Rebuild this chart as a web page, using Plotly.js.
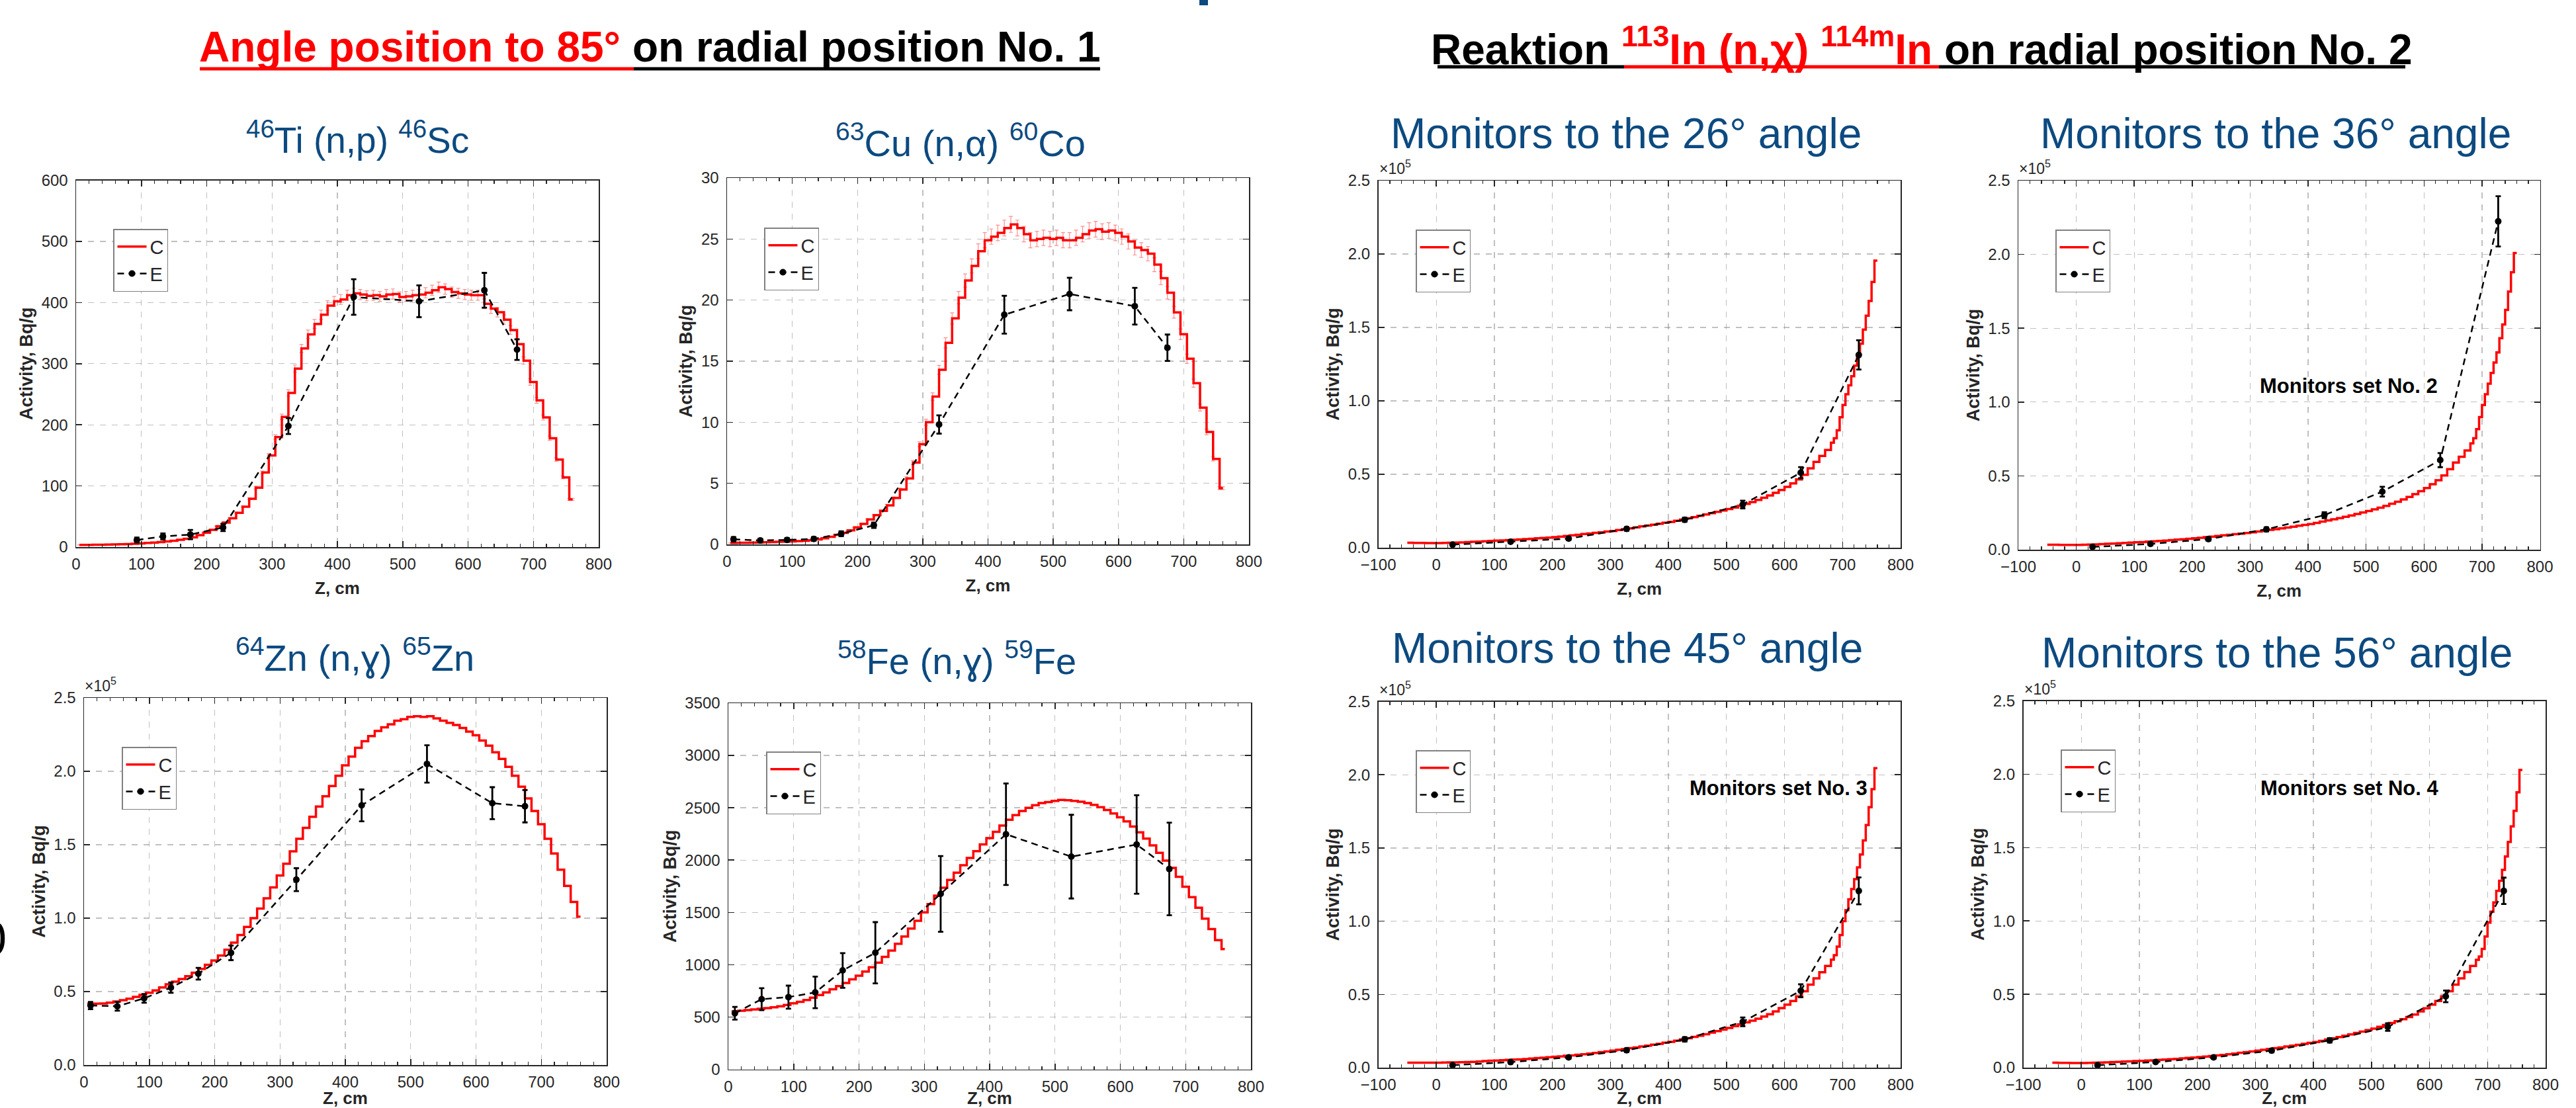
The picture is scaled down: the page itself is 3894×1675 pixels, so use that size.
<!DOCTYPE html>
<html>
<head>
<meta charset="utf-8">
<script src="https://cdn.plot.ly/plotly-3.0.1.min.js"></script>
<style>html,body{margin:0;padding:0;background:#fff;}#chart{width:3894px;height:1675px;}</style>
</head>
<body>
<div id="chart"></div>
<script>
// ---------------- DATA ----------------
// Calculated (C) histogram grid for the 85° panels, cm (bin starts, last value closes the final bin)
const X_85 = [5,15,25,35,45,55,65,75,85,95,105,115,125,135,145,155,165,175,185,195,205,215,225,235,245,255,265,275,285,295,305,315,325,335,345,355,365,375,385,395,405,415,425,435,445,455,465,475,485,495,505,515,525,535,545,555,565,575,585,595,605,615,625,635,645,655,665,675,685,695,705,715,725,735,745,755,760];
// Experimental (E) positions, cm
const E_X_85 = [10,51,92,133,175,225,325,425,525,625,675];
const E_X_TI = [93,133,175,225,325,425,525,625,675];

// 46Ti (n,p) 46Sc, Bq/g
const C_TI = [3.5,3.6,3.7,3.8,4.0,4.2,4.5,4.9,5.4,6.0,6.7,7.4,8.2,9.2,10.3,11.8,13.5,16.0,19.5,23.5,28,34,40,47,56,66,79,97,122,150,180,213,252,292,325,348,365,380,395,402,405,412,415,413,411,412,410,413,414,409,410,412,413,416,420,425,422,417,415,413,412,412,398,390,384,372,355,332,305,270,240,212,178,143,114,78,78];
const E_TI = [11.4,17.4,20.4,32,198,409,402,420,323];
const E_TI_ERR = [4,5,7.5,6,13,29,26,28.5,17];

// 63Cu (n,α) 60Co, Bq/g
const C_CU = [0.12,0.13,0.14,0.15,0.16,0.17,0.19,0.21,0.23,0.25,0.27,0.30,0.34,0.40,0.50,0.62,0.78,0.95,1.15,1.40,1.68,2.05,2.40,2.75,3.20,3.80,4.50,5.40,6.70,8.20,10.0,12.1,14.3,16.5,18.5,20.2,21.6,22.8,24.0,24.9,25.2,25.5,25.9,26.2,25.9,25.4,24.9,25.0,25.1,25.0,25.1,24.9,24.9,25.1,25.4,25.7,25.8,25.6,25.7,25.5,25.2,24.8,24.3,24.1,23.8,22.9,21.8,20.6,19.0,17.2,15.2,13.2,11.2,9.2,7.0,4.6,4.6];
const E_CU = [0.42,0.32,0.37,0.45,0.87,1.57,9.82,18.8,20.5,19.5,16.1];
const E_CU_ERR = [0.18,0.15,0.15,0.15,0.2,0.22,0.75,1.55,1.33,1.5,1.08];

// 64Zn (n,ɣ) 65Zn, ×10^5 Bq/g
const C_ZN = [0.418,0.418,0.419,0.425,0.432,0.442,0.452,0.464,0.478,0.492,0.508,0.528,0.549,0.568,0.586,0.605,0.628,0.654,0.682,0.712,0.745,0.785,0.833,0.885,0.94,1.00,1.065,1.135,1.21,1.29,1.37,1.455,1.54,1.615,1.69,1.76,1.83,1.90,1.97,2.04,2.10,2.16,2.205,2.24,2.275,2.30,2.32,2.345,2.355,2.37,2.375,2.37,2.375,2.36,2.345,2.33,2.315,2.295,2.27,2.245,2.21,2.175,2.13,2.085,2.03,1.97,1.895,1.815,1.73,1.64,1.54,1.44,1.33,1.22,1.11,1.01,1.01];
const E_ZN = [0.405,0.40,0.454,0.527,0.622,0.764,1.262,1.768,2.05,1.783,1.762];
const E_ZN_ERR = [0.025,0.03,0.03,0.035,0.04,0.05,0.078,0.109,0.127,0.109,0.11];

// 58Fe (n,ɣ) 59Fe, Bq/g
const C_FE = [555,560,566,572,578,585,593,602,615,630,645,662,685,710,735,765,795,825,860,895,935,975,1020,1075,1135,1200,1270,1345,1420,1500,1580,1660,1735,1810,1880,1950,2020,2085,2150,2210,2270,2330,2385,2430,2470,2500,2525,2545,2555,2565,2575,2572,2565,2558,2545,2528,2505,2478,2445,2410,2370,2320,2265,2205,2140,2070,1995,1925,1840,1745,1645,1545,1440,1340,1235,1150,1150];
const E_FE = [536,670,690,735,945,1114,1677,2247,2033,2149,1915];
const E_FE_ERR = [61,105,110,151,166,293,362,485,400,471,443];

// Monitors 113In (n,χ) 114mIn, ×10^5 Bq/g
const X_MON = [-50,-40,-30,-20,-10,0,10,20,30,40,50,60,70,80,90,100,110,120,130,140,150,160,170,180,190,200,210,220,230,240,250,260,270,280,290,300,310,320,330,340,350,360,370,380,390,400,410,420,430,440,450,460,470,480,490,500,510,520,530,540,550,560,570,580,590,600,610,620,630,640,650,660,670,680,685,690,695,700,705,710,715,720,725,730,735,740,745,750,755,760];
const E_X_MON = [28,128,228,328,428,528,628,728];

const C_26 = [0.034,0.033,0.033,0.032,0.032,0.032,0.033,0.034,0.035,0.036,0.038,0.040,0.042,0.044,0.046,0.048,0.050,0.052,0.054,0.056,0.058,0.061,0.064,0.066,0.069,0.072,0.076,0.080,0.084,0.088,0.093,0.097,0.101,0.105,0.110,0.114,0.120,0.126,0.132,0.138,0.145,0.151,0.157,0.163,0.170,0.176,0.184,0.192,0.200,0.208,0.217,0.226,0.235,0.244,0.253,0.263,0.274,0.286,0.298,0.311,0.325,0.340,0.356,0.374,0.393,0.414,0.438,0.465,0.497,0.540,0.585,0.625,0.665,0.715,0.745,0.80,0.889,0.972,1.045,1.106,1.168,1.24,1.30,1.39,1.485,1.58,1.68,1.81,1.955,1.955];
const E_26 = [0.021,0.041,0.062,0.128,0.19,0.294,0.511,1.313];
const E_26_ERR = [0.008,0.008,0.01,0.012,0.014,0.026,0.038,0.10];

const C_36 = [0.034,0.034,0.033,0.033,0.033,0.033,0.034,0.035,0.036,0.038,0.040,0.042,0.044,0.046,0.048,0.050,0.052,0.055,0.057,0.059,0.062,0.065,0.068,0.071,0.074,0.077,0.081,0.085,0.089,0.093,0.097,0.101,0.105,0.109,0.113,0.118,0.123,0.128,0.134,0.139,0.145,0.150,0.156,0.162,0.168,0.174,0.182,0.190,0.198,0.206,0.214,0.223,0.232,0.242,0.252,0.262,0.273,0.285,0.297,0.311,0.325,0.340,0.357,0.376,0.396,0.418,0.443,0.470,0.503,0.545,0.590,0.630,0.672,0.72,0.755,0.816,0.898,0.98,1.053,1.125,1.197,1.268,1.336,1.433,1.525,1.624,1.748,1.879,2.009,2.009];
const E_36 = [0.019,0.039,0.072,0.138,0.234,0.393,0.607,2.224];
const E_36_ERR = [0.008,0.01,0.012,0.014,0.02,0.033,0.048,0.17];

const C_45 = [0.034,0.034,0.034,0.034,0.034,0.034,0.035,0.036,0.036,0.037,0.038,0.040,0.042,0.045,0.047,0.049,0.051,0.053,0.055,0.057,0.059,0.062,0.065,0.068,0.071,0.074,0.077,0.081,0.084,0.088,0.091,0.096,0.101,0.106,0.111,0.116,0.122,0.127,0.133,0.138,0.144,0.150,0.157,0.163,0.170,0.176,0.184,0.193,0.201,0.210,0.218,0.228,0.239,0.249,0.260,0.271,0.283,0.296,0.309,0.321,0.334,0.349,0.365,0.384,0.406,0.430,0.455,0.487,0.522,0.567,0.610,0.652,0.694,0.737,0.768,0.826,0.906,1.001,1.075,1.149,1.219,1.287,1.367,1.456,1.552,1.657,1.778,1.901,2.045,2.045];
const E_45 = [0.017,0.038,0.07,0.119,0.193,0.313,0.525,1.207];
const E_45_ERR = [0.008,0.008,0.01,0.012,0.015,0.03,0.044,0.092];

const C_56 = [0.034,0.033,0.033,0.032,0.032,0.032,0.033,0.034,0.035,0.036,0.038,0.040,0.042,0.043,0.045,0.046,0.048,0.050,0.053,0.055,0.057,0.060,0.063,0.066,0.069,0.072,0.076,0.079,0.083,0.087,0.091,0.096,0.101,0.106,0.111,0.116,0.122,0.127,0.133,0.138,0.144,0.150,0.156,0.162,0.169,0.175,0.183,0.192,0.200,0.209,0.218,0.227,0.237,0.246,0.256,0.266,0.278,0.291,0.304,0.317,0.330,0.345,0.362,0.383,0.405,0.429,0.454,0.486,0.521,0.566,0.609,0.651,0.693,0.735,0.757,0.809,0.894,0.989,1.063,1.126,1.205,1.274,1.348,1.439,1.538,1.644,1.75,1.877,2.029,2.029];
const E_56 = [0.017,0.038,0.07,0.116,0.186,0.277,0.486,1.205];
const E_56_ERR = [0.008,0.008,0.01,0.012,0.015,0.026,0.04,0.09];

// Texts
const PANEL_TITLES = [
  '<sup>46</sup>Ti (n,p) <sup>46</sup>Sc',
  '<sup>63</sup>Cu (n,α) <sup>60</sup>Co',
  'Monitors to the 26° angle',
  'Monitors to the 36° angle',
  '<sup>64</sup>Zn (n,ɣ) <sup>65</sup>Zn',
  '<sup>58</sup>Fe (n,ɣ) <sup>59</sup>Fe',
  'Monitors to the 45° angle',
  'Monitors to the 56° angle'
];
const HEADER_1 = '<b><span style="color:#ff0000">Angle position to 85°</span> on radial position No. 1</b>';
const HEADER_2 = '<b>Reaktion <span style="color:#ff0000"><sup>113</sup>In (n,χ) <sup>114m</sup>In</span> on radial position No. 2</b>';
const SET_LABELS = ['Monitors set No. 2','Monitors set No. 3','Monitors set No. 4'];
const SERIES_NAMES = ['C','E'];

// ---------------- LAYOUT ----------------
const W = 3894, H = 1675;
const FONT = 'Arial, "Liberation Sans", sans-serif';
const BLUE = '#0C4A80';
const AX = '#262626';
const fx = p => p / W;
const fy = p => 1 - p / H;

const panels = [
  {box:[115,905,272.5,827],  xr:[0,800],   yr:[0,600],  dy:100, fmt:'',    exp:false, leg:[171,346],  tc:[540,208,55], cx:X_85,  cy:C_TI, ex:E_X_TI,  ey:E_TI, ee:E_TI_ERR, cerr:2},
  {box:[1099,1888,269,823],  xr:[0,800],   yr:[0,30],   dy:5,   fmt:'',    exp:false, leg:[1155,344], tc:[1452,212,56], cx:X_85,  cy:C_CU, ex:E_X_85,  ey:E_CU, ee:E_CU_ERR, cerr:2.5},
  {box:[2083.5,2873,273,828],xr:[-100,800],yr:[0,2.5],  dy:0.5, fmt:'.1f', exp:true,  leg:[2140,347], tc:[2458,202,64], cx:X_MON, cy:C_26, ex:E_X_MON, ey:E_26, ee:E_26_ERR},
  {box:[3051,3839.5,273,831],xr:[-100,800],yr:[0,2.5],  dy:0.5, fmt:'.1f', exp:true,  leg:[3107,347], tc:[3440,202,64], cx:X_MON, cy:C_36, ex:E_X_MON, ey:E_36, ee:E_36_ERR},
  {box:[127,917,1055,1610],  xr:[0,800],   yr:[0,2.5],  dy:0.5, fmt:'.1f', exp:true,  leg:[184,1129], tc:[536,990,56],  cx:X_85,  cy:C_ZN, ex:E_X_85,  ey:E_ZN, ee:E_ZN_ERR},
  {box:[1101,1891,1063,1616.5],xr:[0,800], yr:[0,3500], dy:500, fmt:'',    exp:false, leg:[1158,1136],tc:[1446,995,56], cx:X_85,  cy:C_FE, ex:E_X_85,  ey:E_FE, ee:E_FE_ERR},
  {box:[2083.5,2873,1060.5,1614],xr:[-100,800],yr:[0,2.5],dy:0.5,fmt:'.1f',exp:true, leg:[2140,1134],tc:[2460,980,64], cx:X_MON, cy:C_45, ex:E_X_MON, ey:E_45, ee:E_45_ERR},
  {box:[3058.5,3848,1059.5,1614],xr:[-100,800],yr:[0,2.5],dy:0.5,fmt:'.1f',exp:true, leg:[3115,1133],tc:[3442,987,64], cx:X_MON, cy:C_56, ex:E_X_MON, ey:E_56, ee:E_56_ERR}
];

const data = [];
const layout = {
  width: W, height: H,
  margin: {l:0, r:0, t:0, b:0},
  paper_bgcolor: '#ffffff', plot_bgcolor: '#ffffff',
  font: {family: FONT, color: AX},
  annotations: [], shapes: []
};

panels.forEach((p, k) => {
  const i = k + 1;
  const xs = i === 1 ? '' : String(i);
  const legKey = i === 1 ? 'legend' : 'legend' + i;
  const [l, r, t, b] = p.box;
  const common = {
    showgrid: true, gridcolor: 'rgba(140,140,140,0.55)', griddash: 'dash', gridwidth: 1.3,
    showline: true, linecolor: AX, linewidth: 1.5, mirror: 'ticks',
    ticks: 'inside', ticklen: 9, tickwidth: 1.5, tickcolor: AX,
    tickfont: {family: FONT, size: 24, color: AX},
    zeroline: false, fixedrange: true, automargin: false
  };
  layout['xaxis' + xs] = Object.assign({}, common, {
    domain: [fx(l), fx(r)], range: p.xr, dtick: 100, tick0: 0, anchor: 'y' + xs,
    ticklabelstandoff: 4,
    minor: {dtick: 20, ticks: 'inside', ticklen: 5, tickwidth: 1.2, tickcolor: AX, showgrid: false},
    title: {text: '<b>Z, cm</b>', font: {family: FONT, size: 26, color: AX}, standoff: 14}
  });
  layout['yaxis' + xs] = Object.assign({}, common, {
    domain: [fy(b), fy(t)], range: p.yr, dtick: p.dy, tick0: 0, anchor: 'x' + xs,
    tickformat: p.fmt, ticklabelstandoff: 6,
    title: {text: '<b>Activity, Bq/g</b>', font: {family: FONT, size: 27, color: AX}, standoff: 5}
  });
  layout[legKey] = {
    x: fx(p.leg[0]), y: fy(p.leg[1]), xanchor: 'left', yanchor: 'top',
    bgcolor: '#ffffff', bordercolor: '#808080', borderwidth: 1.5, itemwidth: 44,
    font: {family: FONT, size: 29, color: AX}, traceorder: 'normal', tracegroupgap: 0
  };
  const cTrace = {
    x: p.cx, y: p.cy, type: 'scatter', mode: 'lines', name: SERIES_NAMES[0],
    line: {color: '#ff0000', width: 3.5, shape: 'hv'},
    xaxis: 'x' + xs, yaxis: 'y' + xs, legend: legKey, hoverinfo: 'skip'
  };
  if (p.cerr) {
    cTrace.error_y = {type: 'percent', value: p.cerr, color: 'rgba(255,80,80,0.65)', thickness: 1.2, width: 3};
  }
  data.push(cTrace);
  data.push({
    x: p.ex, y: p.ey, type: 'scatter', mode: 'lines+markers', name: SERIES_NAMES[1],
    line: {color: '#000000', width: 2.5, dash: '10px,7px'},
    marker: {color: '#000000', size: 10, symbol: 'circle'},
    error_y: {type: 'data', array: p.ee, color: '#000000', thickness: 2.8, width: 4},
    xaxis: 'x' + xs, yaxis: 'y' + xs, legend: legKey, hoverinfo: 'skip'
  });
  // panel title
  layout.annotations.push({
    text: PANEL_TITLES[k], xref: 'paper', yref: 'paper',
    x: fx(p.tc[0]), y: fy(p.tc[1]), xanchor: 'center', yanchor: 'middle', showarrow: false,
    font: {family: FONT, size: p.tc[2], color: BLUE}
  });
  if (p.exp) {
    layout.annotations.push({
      text: '×10<sup>5</sup>', xref: 'paper', yref: 'paper',
      x: fx(l - 1), y: fy(t - 3), xanchor: 'left', yanchor: 'bottom', showarrow: false,
      font: {family: FONT, size: 23, color: AX}
    });
  }
});

// headers
layout.annotations.push({text: HEADER_1, xref:'paper', yref:'paper', x: fx(982.5), y: fy(71.5),
  xanchor:'center', yanchor:'middle', showarrow:false, font:{family: FONT, size: 64, color:'#000000'}});
layout.annotations.push({text: HEADER_2, xref:'paper', yref:'paper', x: fx(2904.5), y: fy(70),
  xanchor:'center', yanchor:'middle', showarrow:false, font:{family: FONT, size: 64, color:'#000000'}});
// "Monitors set" labels
[[3550,583],[2688,1191],[3551,1191]].forEach((pos, j) => {
  layout.annotations.push({text: '<b>' + SET_LABELS[j] + '</b>', xref:'paper', yref:'paper',
    x: fx(pos[0]), y: fy(pos[1]), xanchor:'center', yanchor:'middle', showarrow:false,
    font:{family: FONT, size: 31, color:'#000000'}});
});
// partially visible glyph at left edge
layout.annotations.push({text: '0', xref:'paper', yref:'paper', x: fx(12), y: fy(1419),
  xanchor:'right', yanchor:'middle', showarrow:false, font:{family: FONT, size: 72, color:'#000000'}});

// underlines of headers
const uline = (x0, x1, y, c) => ({type:'line', xref:'paper', yref:'paper', x0: fx(x0), x1: fx(x1), y0: fy(y), y1: fy(y), line:{color:c, width:5}});
layout.shapes.push(uline(302, 958, 104, '#ff0000'));
layout.shapes.push(uline(958, 1663, 104, '#000000'));
layout.shapes.push(uline(2173, 2455, 101, '#000000'));
layout.shapes.push(uline(2455, 2931, 101, '#ff0000'));
layout.shapes.push(uline(2931, 3636, 101, '#000000'));
// clipped glyph fragment at top
layout.shapes.push({type:'rect', xref:'paper', yref:'paper', x0: fx(1813), x1: fx(1826), y0: fy(0), y1: fy(8), fillcolor: BLUE, line:{width:0}});

Plotly.newPlot('chart', data, layout, {displayModeBar: false, staticPlot: true});
</script>
</body>
</html>
